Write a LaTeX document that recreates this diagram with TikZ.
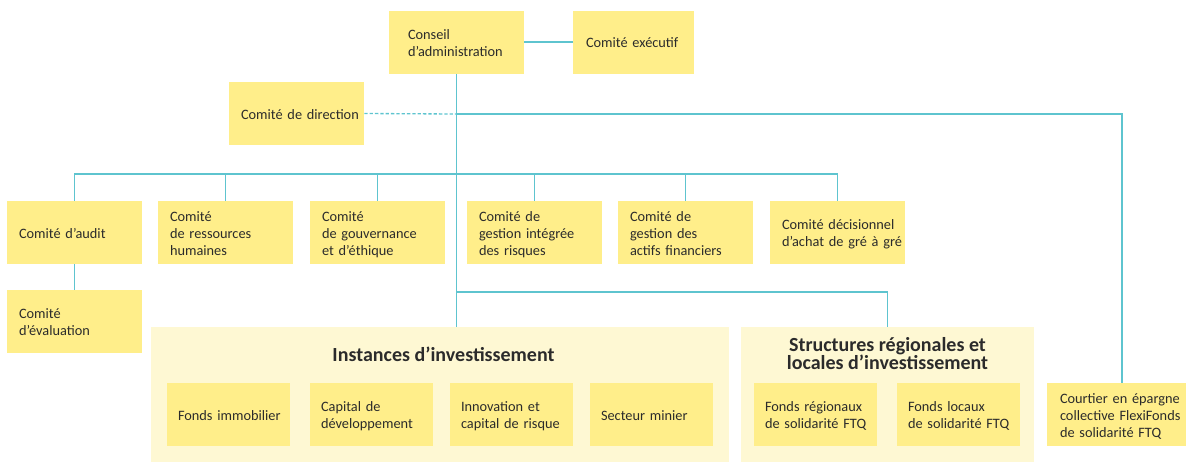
\documentclass[tikz,border=0pt]{standalone}
\usepackage{fontspec}
\setmainfont{Carlito}
\usepackage{tikz}
\usetikzlibrary{positioning, calc, backgrounds}
\definecolor{orgyellow}{HTML}{FFEE8A}
\definecolor{orgband}{HTML}{FEF8D3}
\definecolor{orgline}{HTML}{5EC4CF}
\definecolor{orgtext}{HTML}{2B2B2B}
\newcommand{\boxlines}[1]{\raisebox{-1.9pt}[\height][\depth]{\begin{tabular}{@{}l@{}}#1\end{tabular}}}

\begin{document}
\begin{tikzpicture}[
    x=0.75pt, y=-0.75pt,
    box/.style={rectangle, fill=orgyellow, minimum width=101.25pt, minimum height=47.25pt, text width=83.25pt, align=left, inner xsep=0pt, font=\fontsize{10.75}{12.75}\selectfont, text=orgtext},
    subbox/.style={box, minimum width=92.25pt, text width=75.75pt},
    band/.style={rectangle, fill=orgband, minimum height=101.25pt, inner sep=0pt},
    bandtitle/.style={font=\fontsize{15}{13.5}\selectfont\bfseries, text=orgtext, align=center},
    link/.style={draw=orgline, line width=1pt},
    dashlink/.style={link, dash pattern=on 2.5pt off 1.5pt}
]
\useasboundingbox (0,0) rectangle (1186,462);

% Governing bodies at the top
\node[box, text width=72.75pt] (conseil) at (456.5,42) {\boxlines{Conseil\\d'administration}};
\node[box, minimum width=90.75pt, text width=71.25pt] (executif) at (633.5,42) {\boxlines{Comité exécutif}};
\node[box] (direction) at (296.5,113.5) {\boxlines{Comité de direction}};

% Board committees
\node[box] (audit) at (74.5,232.5) {\boxlines{Comité d'audit}};
\node[box] (rh) at (225.5,232.5) {\boxlines{Comité\\de ressources\\humaines}};
\node[box] (gouv) at (377.5,232.5) {\boxlines{Comité\\de gouvernance\\et d'éthique}};
\node[box] (risques) at (534.5,232.5) {\boxlines{Comité de\\gestion intégrée\\des risques}};
\node[box] (actifs) at (685.5,232.5) {\boxlines{Comité de\\gestion des\\actifs financiers}};
\node[box] (achat) at (837.5,232.5) {\boxlines{Comité décisionnel\\d'achat de gré à gré}};
\node[box] (eval) at (74.5,321.5) {\boxlines{Comité\\d'évaluation}};

% Investment bands
\node[band, minimum width=433.5pt] (inst) at (440,394.5) {};
\node[band, minimum width=219.75pt] (struct) at (887.5,394.5) {};
\node[bandtitle] (insttitle) at (443.5,354) {Instances d'investissement};
\node[bandtitle] (structtitle) at (887.5,354) {Structures régionales et\\locales d'investissement};

\node[subbox] (immo) at (228.5,414.5) {\boxlines{Fonds immobilier}};
\node[subbox] (capital) at (371.5,414.5) {\boxlines{Capital de\\développement}};
\node[subbox] (innov) at (511.5,414.5) {\boxlines{Innovation et\\capital de risque}};
\node[subbox] (minier) at (651.5,414.5) {\boxlines{Secteur minier}};
\node[subbox] (regio) at (815.5,414.5) {\boxlines{Fonds régionaux\\de solidarité FTQ}};
\node[subbox] (locaux) at (958.5,414.5) {\boxlines{Fonds locaux\\de solidarité FTQ}};

\node[box, minimum width=104.25pt, text width=84.75pt] (courtier) at (1116.5,414.5) {\boxlines{Courtier en épargne\\collective FlexiFonds\\de solidarité FTQ}};

% Connectors
\coordinate (bus) at (456,174);
\coordinate (split) at (456,292);
\coordinate (branch) at (456,114);

\draw[link] (conseil.east |- executif.west) -- (executif.west);
\draw[link] (conseil.south) -- (conseil.south |- inst.north);
\draw[dashlink] (direction.east) -- (branch);
\draw[link] (branch) -| ($(courtier.north)+(5.5,0)$);
\draw[link] (audit.north) |- (bus) -| (achat.north);
\foreach \n in {rh, gouv, risques, actifs}
    \draw[link] (\n.north) -- (\n.north |- bus);
\draw[link] (audit.south) -- (eval.north);
\draw[link] (split) -| (struct.north);

\end{tikzpicture}
\end{document}
